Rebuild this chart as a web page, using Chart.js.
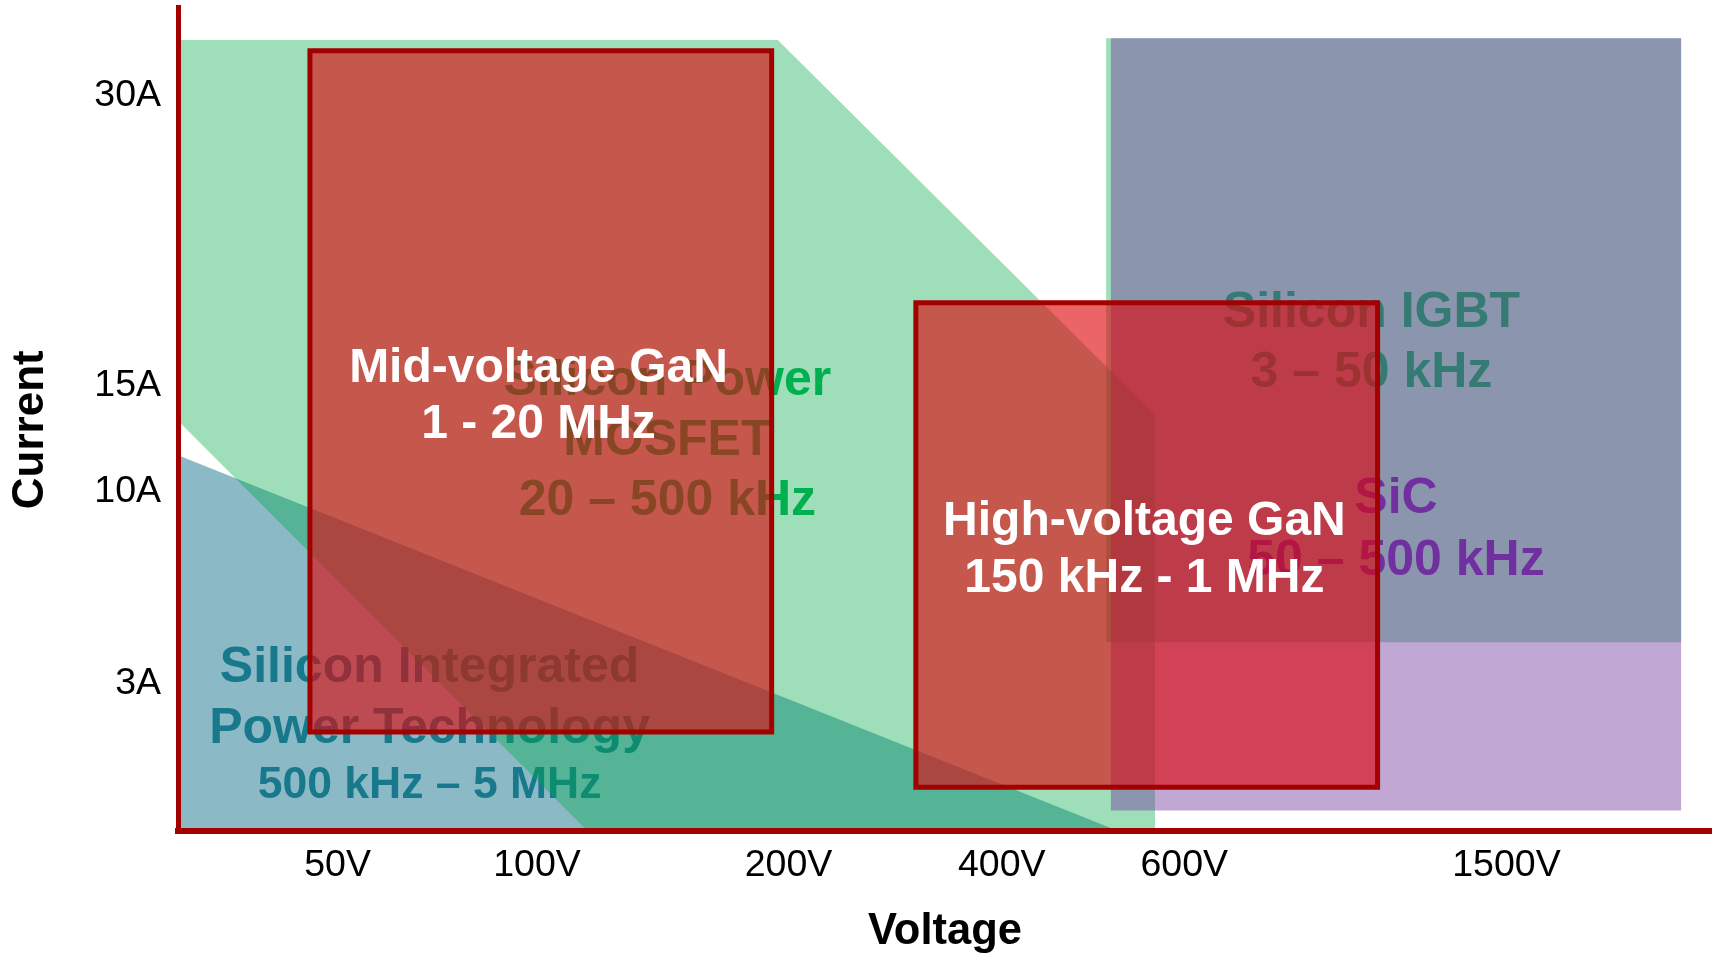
<!DOCTYPE html>
<html>
<head>
<meta charset="utf-8">
<title>Power device ranges</title>
<script src="https://cdn.jsdelivr.net/npm/chart.js@4.4.1/dist/chart.umd.min.js"></script>
<style>
  html, body { margin: 0; padding: 0; background: #fff; }
  canvas { display: block; }
</style>
</head>
<body>
<canvas id="graph" width="1712" height="953"></canvas>
<script>
// axis ticks: schematic positions on a 0-100 scale, not to scale with the values
const voltageTicks = [10.4, 23.4, 39.8, 53.7, 65.6, 86.6]
const voltageLabels = ['50V', '100V', '200V', '400V', '600V', '1500V']
const currentTicks = [89.3, 54.0, 41.2, 17.9]
const currentLabels = ['30A', '15A', '10A', '3A']

// region outlines, [x, y] in axis units
const integratedEdge = [[0, 45.6], [61.3, 0]]
const mosfetUpper = [[0, 96.0], [39.1, 96.0], [63.7, 50.5]]
const mosfetLower = [[0, 49.8], [26.7, 0], [63.7, 0]]
// boxes as [xFrom, xTo, yFrom, yTo]
const igbtBox = [60.5, 98.0, 22.9, 96.2]
const sicBox = [60.8, 98.0, 2.5, 96.2]
const midGanBox = [8.6, 38.7, 12.0, 94.7]
const highGanBox = [48.1, 78.2, 5.3, 64.1]

const integratedText = ['Silicon Integrated', 'Power Technology', '500 kHz – 5 MHz']
const mosfetText = ['Silicon Power', 'MOSFET', '20 – 500 kHz']
const igbtText = ['Silicon IGBT', '3 – 50 kHz']
const sicText = ['SiC', '50 – 500 kHz']
const midGanText = ['Mid-voltage GaN', '1 - 20 MHz']
const highGanText = ['High-voltage GaN', '150 kHz - 1 MHz']

const FONT = '"Liberation Sans", Arial, sans-serif'

function toPoints(list){
    return list.map(p => ({ x: p[0], y: p[1] }))
}

function boxTop(box){
    return [{ x: box[0], y: box[3] }, { x: box[1], y: box[3] }]
}

function boxOutline(box){
    return toPoints([[box[0], box[2]], [box[0], box[3]], [box[1], box[3]], [box[1], box[2]], [box[0], box[2]]])
}

// text blocks: anchor is centre x / first baseline in axis units, gaps in px
function note(lines, x, y, sizes, gaps, color){
    return { lines, x, y, sizes, gaps, color }
}

const area = { borderWidth: 0, pointRadius: 0, showLine: true }

// listed bottom layer first
const layers = [
    { ...area, data: toPoints(integratedEdge), fill: { value: 0 }, backgroundColor: '#8bbac6',
      note: note(integratedText, 16.4, 18.1, [50, 50, 44.5], [61, 55], '#17798b') },
    { ...area, data: toPoints(mosfetLower), fill: false },
    { ...area, data: toPoints(mosfetUpper), fill: 1, backgroundColor: 'rgba(0, 171, 74, 0.38)',
      note: note(mosfetText, 31.9, 52.9, [50, 50, 50], [60, 60], '#00b050') },
    { ...area, data: boxTop(igbtBox), fill: { value: igbtBox[2] }, backgroundColor: 'rgba(0, 171, 74, 0.38)',
      note: note(igbtText, 77.8, 61.2, [50, 50], [60], '#00b050') },
    { ...area, data: boxTop(sicBox), fill: { value: sicBox[2] }, backgroundColor: 'rgba(118, 60, 160, 0.45)',
      note: note(sicText, 79.4, 38.6, [50, 50], [62], '#7030a0') },
    { ...area, data: boxTop(midGanBox), fill: { value: midGanBox[2] }, backgroundColor: 'rgba(221, 5, 11, 0.62)' },
    { data: boxOutline(midGanBox), fill: false, pointRadius: 0, borderColor: '#a30000', borderWidth: 5,
      borderCapStyle: 'square', borderJoinStyle: 'miter',
      note: note(midGanText, 23.5, 54.5, [48, 48], [56], '#ffffff') },
    { ...area, data: boxTop(highGanBox), fill: { value: highGanBox[2] }, backgroundColor: 'rgba(221, 5, 11, 0.62)' },
    { data: boxOutline(highGanBox), fill: false, pointRadius: 0, borderColor: '#a30000', borderWidth: 5,
      borderCapStyle: 'square', borderJoinStyle: 'miter',
      note: note(highGanText, 63.0, 35.9, [48, 48], [57], '#ffffff') }
]
// first dataset is drawn last, so give the bottom layer the highest order
layers.forEach((ds, i) => { ds.order = layers.length - i })

const regionText = {
    id: 'regionText',
    afterDatasetDraw(chart, args){
        const n = chart.data.datasets[args.index].note
        if (!n) return
        const ctx = chart.ctx
        const px = chart.scales.x.getPixelForValue(n.x)
        let py = chart.scales.y.getPixelForValue(n.y)
        ctx.save()
        ctx.fillStyle = n.color
        ctx.textAlign = 'center'
        ctx.textBaseline = 'alphabetic'
        n.lines.forEach((line, i) => {
            ctx.font = `bold ${n.sizes[i]}px ${FONT}`
            ctx.fillText(line, px, py)
            py += n.gaps[i] || 0
        })
        ctx.restore()
    }
}

// y axis title, set a little below the middle of the axis
const currentTitle = {
    id: 'currentTitle',
    afterDraw(chart){
        const ctx = chart.ctx
        const y = chart.scales.y.getPixelForValue(48.7)
        ctx.save()
        ctx.translate(31, y)
        ctx.rotate(-Math.PI / 2)
        ctx.font = `bold 44px ${FONT}`
        ctx.fillStyle = '#000'
        ctx.textAlign = 'center'
        ctx.textBaseline = 'middle'
        ctx.fillText('Current', 0, 0)
        ctx.restore()
    }
}

const axisRed = '#a30000'

function fixedBox(size, prop){
    return s => {
        s[prop] = size
        s.paddingTop = 0
        s.paddingBottom = 0
        s.paddingLeft = 0
        s.paddingRight = 0
    }
}

const ctx = document.getElementById('graph').getContext('2d')
new Chart(ctx, {
    type: 'line',
    data: { datasets: layers },
    plugins: [regionText, currentTitle],
    options: {
        responsive: false,
        devicePixelRatio: 1,
        animation: false,
        events: [],
        layout: { padding: { top: 7, left: 0, right: 0, bottom: 0 } },
        plugins: { legend: { display: false }, tooltip: { enabled: false } },
        scales: {
            x: {
                type: 'linear', min: 0, max: 100,
                afterFit: fixedBox(122, 'height'),
                afterBuildTicks: s => { s.ticks = voltageTicks.map(v => ({ value: v })) },
                grid: { display: true, color: 'transparent', drawTicks: false },
                border: { display: true, color: axisRed, width: 6, z: 1 },
                ticks: {
                    autoSkip: false, maxRotation: 0, padding: 12, color: '#000',
                    font: { family: FONT, size: 37.5 },
                    callback: (v, i) => voltageLabels[i]
                },
                title: {
                    display: true, text: 'Voltage', color: '#000',
                    font: { family: FONT, size: 43.5, weight: 'bold', lineHeight: 0.9 },
                    padding: { top: 0, bottom: 1 }
                }
            },
            y: {
                type: 'linear', min: 0, max: 100,
                afterFit: fixedBox(178, 'width'),
                afterBuildTicks: s => { s.ticks = currentTicks.map(v => ({ value: v })) },
                grid: { display: true, color: 'transparent', drawTicks: false },
                border: { display: true, color: axisRed, width: 5, z: 1 },
                ticks: {
                    autoSkip: false, padding: 17, color: '#000',
                    font: { family: FONT, size: 37.5 },
                    callback: (v, i) => currentLabels[i]
                }
            }
        }
    }
})
</script>
</body>
</html>
